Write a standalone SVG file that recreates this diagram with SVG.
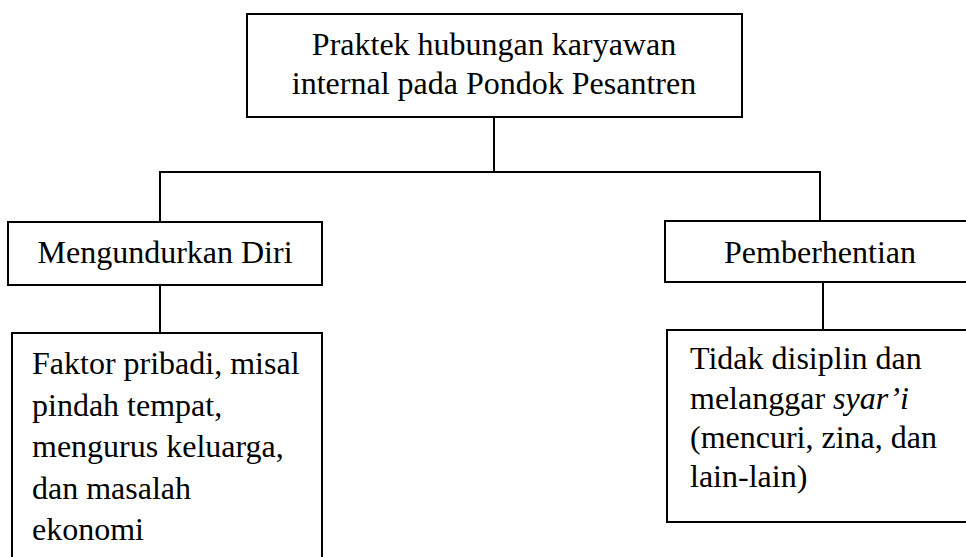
<svg xmlns="http://www.w3.org/2000/svg" width="966" height="557" viewBox="0 0 966 557">
<style>
.box{fill:#fff;stroke:#000;stroke-width:2}
.ln{fill:none;stroke:#000;stroke-width:2}
.t{font-family:"Liberation Serif","Times New Roman",serif;font-size:32px;fill:#000}
.c{text-anchor:middle}
</style>
<rect width="966" height="557" fill="#fff"/>
<g id="connectors">
<path class="ln" d="M494,117 V172 M159,172 H821 M160,172 V222 M820,172 V221 M160,285 V333 M823,282 V330"/>
</g>
<g id="node-top">
<rect class="box" x="247" y="14" width="495" height="103"/>
<text class="t c" x="494" y="55">Praktek hubungan karyawan</text>
<text class="t c" x="494" y="94">internal pada Pondok Pesantren</text>
</g>
<g id="node-mengundurkan">
<rect class="box" x="8" y="222" width="314" height="63"/>
<text class="t c" x="165" y="263">Mengundurkan Diri</text>
</g>
<g id="node-pemberhentian">
<rect class="box" x="665" y="221" width="320" height="61"/>
<text class="t c" x="820" y="263">Pemberhentian</text>
</g>
<g id="node-faktor">
<rect class="box" x="12" y="333" width="310" height="240"/>
<text class="t" x="32" y="374">Faktor pribadi, misal</text>
<text class="t" x="32" y="415.5">pindah tempat,</text>
<text class="t" x="32" y="457">mengurus keluarga,</text>
<text class="t" x="32" y="498.5">dan masalah</text>
<text class="t" x="32" y="540">ekonomi</text>
</g>
<g id="node-tidak">
<rect class="box" x="667" y="330" width="320" height="192"/>
<text class="t" x="690" y="369">Tidak disiplin dan</text>
<text class="t" x="690" y="409">melanggar <tspan font-style="italic">syar’i</tspan></text>
<text class="t" x="690" y="448">(mencuri, zina, dan</text>
<text class="t" x="690" y="487">lain-lain)</text>
</g>
</svg>
